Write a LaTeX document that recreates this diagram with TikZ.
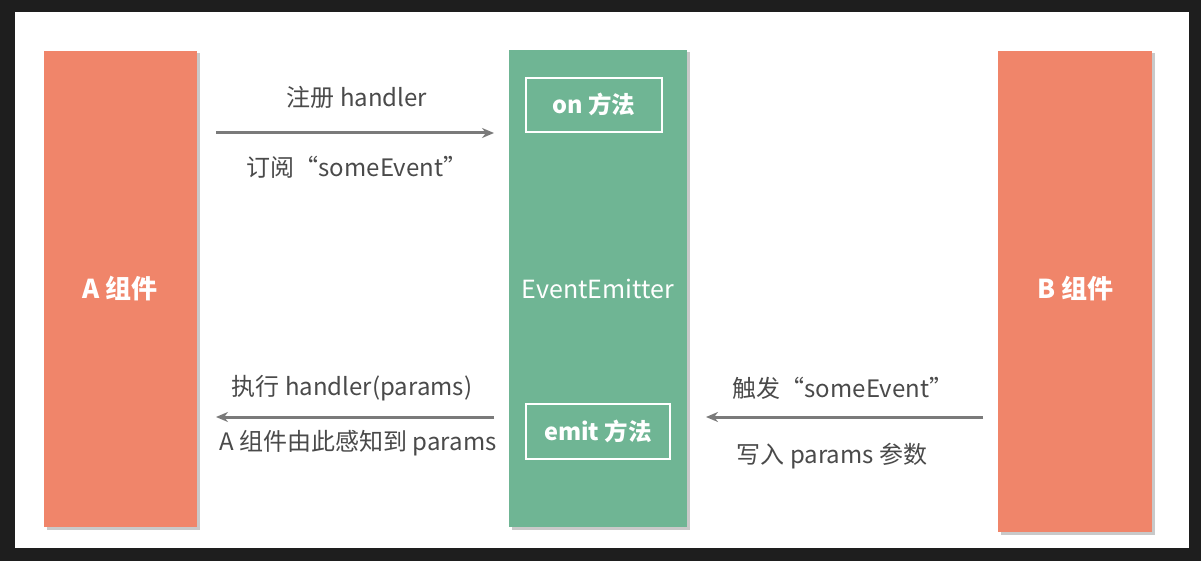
\documentclass[tikz,border=0pt]{standalone}
\usepackage{fontspec}
\setmainfont{Noto Sans CJK SC}
\usetikzlibrary{shadows,arrows.meta}
\definecolor{frame}{HTML}{1E1E1E}
\definecolor{comp}{HTML}{F0856A}
\definecolor{emitter}{HTML}{6FB594}
\definecolor{txt}{HTML}{4A4A4A}
\definecolor{arr}{HTML}{7A7A7A}
\tikzset{
  px/.style={x=1pt,y=-1pt},
  compbox/.style={fill=comp, draw=none, drop shadow={shadow xshift=2.5pt, shadow yshift=-2.5pt, opacity=0.35, fill=black!60}},
  emitbox/.style={fill=emitter, draw=none, drop shadow={shadow xshift=2.5pt, shadow yshift=-2.5pt, opacity=0.35, fill=black!60}},
  method/.style={draw=white, line width=2.8pt, inner sep=0pt},
  boxtext/.style={text=white, font=\fontsize{26}{30}\selectfont\bfseries},
  methtext/.style={text=white, font=\fontsize{23.5}{27}\selectfont\bfseries},
  lbl/.style={text=txt, font=\fontsize{24}{28}\selectfont, inner sep=0pt},
  conn/.style={draw=arr, line width=3pt, -{Stealth[length=12pt,width=10pt]}},
}
\begin{document}
\begin{tikzpicture}[px]
\fill[frame] (0,0) rectangle (1201,561);
\fill[white] (15,12) rectangle (1189,548);
\useasboundingbox (0,0) rectangle (1201,561);
% boxes
\path[compbox] (44,51) rectangle (197,527);
\path[compbox] (998,51) rectangle (1152,532);
\path[emitbox] (509,50) rectangle (687,527);
\node[boxtext] (A) at (120,289) {A 组件};
\node[boxtext] (B) at (1075,289) {B 组件};
\node[text=white, font=\fontsize{25}{29}\selectfont] (E) at (598,289) {EventEmitter};
\draw[method] (526,78) rectangle (662,132);
\node[methtext] (on) at (594,104) {on 方法};
\draw[method] (526,404) rectangle (670,459);
\node[methtext] (emit) at (598,431) {emit 方法};
% connector coordinates
\coordinate (a1) at (216,133);
\coordinate (e1) at (494,133);
\coordinate (e2) at (494,417);
\coordinate (a2) at (216,417);
\coordinate (b1) at (983,417);
\coordinate (e3) at (706,417);
\draw[conn] (a1) -- (e1);
\draw[conn] (e2) -- (a2);
\draw[conn] (b1) -- (e3);
% labels
\node[lbl] (l1) at (357,97) {注册 handler};
\node[lbl] (l2) at (357,167) {订阅“someEvent”};
\node[lbl] (l3) at (352,388) {执行 handler(params)};
\node[lbl] (l4) at (358,443) {A 组件由此感知到 params};
\node[lbl] (l5) at (843,388) {触发“someEvent”};
\node[lbl] (l6) at (832,456) {写入 params 参数};
\end{tikzpicture}
\end{document}
